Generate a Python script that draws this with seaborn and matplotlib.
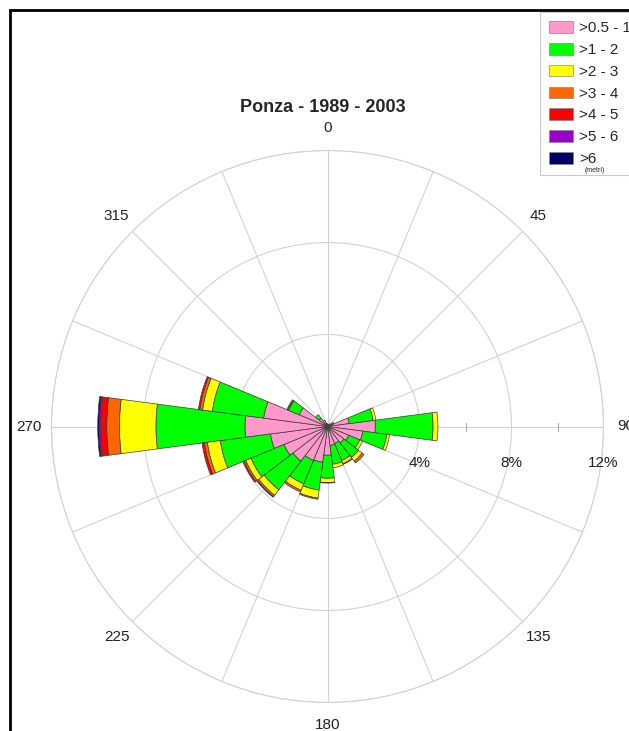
import numpy as np
import pandas as pd
import matplotlib
matplotlib.use("Agg")
import matplotlib.pyplot as plt
import seaborn as sns
from matplotlib.patches import Rectangle, Patch

# direzioni di provenienza (settori di 15 gradi)
directions = [0, 15, 30, 45, 60, 75, 90, 105, 120, 135, 150, 165,
              180, 195, 210, 225, 240, 255, 270, 285, 300, 315, 330, 345]

# frequenze (%) per classe di altezza d'onda
h_05_1 = [0.10, 0.10, 0.10, 0.15, 0.20, 0.95, 2.08, 1.55, 1.00, 0.90, 0.80, 0.83,
          1.25, 1.57, 1.60, 1.90, 2.05, 2.50, 3.59, 2.80, 1.33, 0.45, 0.30, 0.15]
h_1_2 = [0, 0, 0, 0, 0.10, 1.05, 2.51, 1.05, 0.52, 0.80, 0.80, 0.83,
         1.00, 1.22, 1.10, 1.57, 1.55, 2.20, 3.87, 2.25, 0.50, 0.20, 0, 0]
h_2_3 = [0, 0, 0, 0, 0, 0.12, 0.21, 0.12, 0.13, 0.20, 0.15, 0.15,
         0.19, 0.35, 0.30, 0.30, 0.25, 0.57, 1.59, 0.43, 0.04, 0, 0, 0]
h_3_4 = [0, 0, 0, 0, 0, 0, 0, 0, 0, 0.10, 0.03, 0,
         0.02, 0.05, 0.08, 0.08, 0.08, 0.13, 0.55, 0.12, 0.04, 0, 0, 0]
h_4_5 = [0, 0, 0, 0, 0, 0, 0, 0, 0, 0, 0, 0,
         0, 0, 0, 0.03, 0.05, 0.10, 0.26, 0.06, 0, 0, 0, 0]
h_5_6 = [0, 0, 0, 0, 0, 0, 0, 0, 0, 0, 0, 0,
         0, 0, 0, 0, 0, 0, 0.07, 0, 0, 0, 0, 0]
h_6 = [0, 0, 0, 0, 0, 0, 0, 0, 0, 0, 0, 0,
       0, 0, 0, 0, 0, 0, 0.06, 0, 0, 0, 0, 0]

classes = [">0.5 - 1", ">1 - 2", ">2 - 3", ">3 - 4", ">4 - 5", ">5 - 6", ">6"]
colors = ["#FF99CC", "#00FF00", "#FFFF00", "#FF6600", "#FF0000", "#9900CC", "#000066"]
angle_labels = ["0", "", "45", "", "90", "", "135", "", "180", "", "225", "", "270", "", "315", ""]
ring_values = [4, 8, 12]

df = pd.DataFrame(dict(zip(classes, [h_05_1, h_1_2, h_2_3, h_3_4, h_4_5, h_5_6, h_6])),
                  index=directions)

sns.set_theme(style="white")
plt.rcParams['font.family'] = ['Liberation Sans', 'DejaVu Sans']

fig = plt.figure(figsize=(6.29, 7.31), dpi=100)
fig.patch.set_facecolor("white")
ax = fig.add_axes([51.5 / 629, 28.5 / 731, 552 / 629, 552 / 731], projection='polar')
ax.set_facecolor("white")
ax.set_theta_zero_location('N')
ax.set_theta_direction(-1)

theta = np.deg2rad(df.index.values)
bottom = np.zeros(len(df))
for cls, col in zip(classes, colors):
    vals = df[cls].values
    m = vals > 0
    ax.bar(theta[m], vals[m], width=np.deg2rad(15), bottom=bottom[m], color=col,
           edgecolor='#3a3a3a', linewidth=0.5, zorder=3)
    bottom += vals

ax.set_ylim(0, 12)
ax.set_yticks(ring_values)
ax.set_yticklabels([])
ax.set_xticks(np.deg2rad(np.arange(0, 360, 22.5)))
ax.set_xticklabels(angle_labels)
ax.tick_params(axis='x', pad=3, labelsize=11, colors='#222222')
ax.grid(True, color='#D2D2D2', linewidth=0.8)
ax.spines['polar'].set_color('#D2D2D2')
ax.spines['polar'].set_linewidth(0.8)
ax.set_axisbelow(True)

# etichette radiali sotto l'asse dei 90 gradi
for v in ring_values:
    ax.annotate(f"{v}%", xy=(np.pi / 2, v), xytext=(0, -26), textcoords='offset points',
                ha='center', va='center', fontsize=11, color='#222222')
ax.plot(np.deg2rad([90, 90, 90]), [2, 6, 10], ls='none', marker='|', ms=6,
        mew=0.8, color='#AAAAAA', zorder=2)

fig.text(323 / 629, 1 - 107 / 731, "Ponza - 1989 - 2003", ha='center', va='center',
         fontsize=13, fontweight='bold')

handles = [Patch(facecolor=c, edgecolor='#888888', linewidth=0.5) for c in colors]
leg = fig.legend(handles, classes, loc='upper left', bbox_to_anchor=(540 / 629, 1 - 12 / 731),
                 frameon=True, fancybox=False, edgecolor='#BBBBBB', fontsize=11,
                 handlelength=1.57, handleheight=0.8, labelspacing=0.5, borderpad=0.6,
                 handletextpad=0.4, borderaxespad=0)
leg.get_frame().set_linewidth(0.8)
leg.set_zorder(2)
fig.text(595 / 629, 1 - 171 / 731, "(metri)", ha='center', va='center', fontsize=5, zorder=5)

# cornice nera (tagliata a destra e in basso)
fig.add_artist(Rectangle((10 / 629, -0.1), 1.2, 1.1 - 10 / 731, transform=fig.transFigure,
                         fill=False, edgecolor='black', linewidth=2))

fig.savefig("out.png", dpi=100)
